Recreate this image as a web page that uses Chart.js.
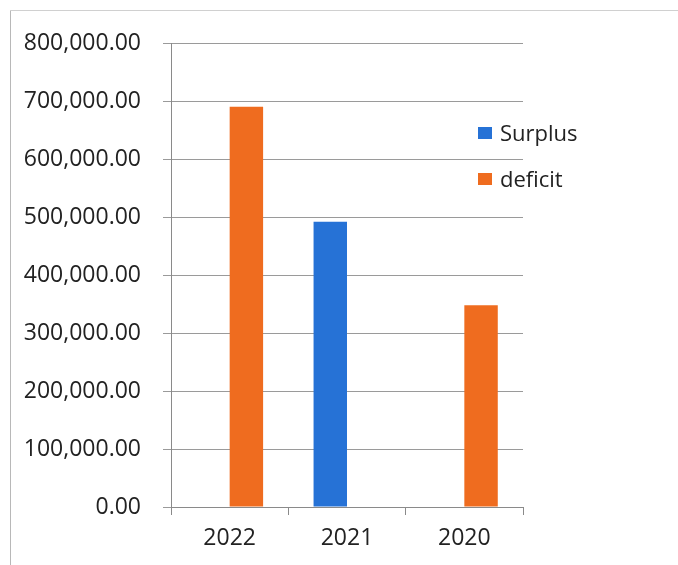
<!DOCTYPE html>
<html>
<head>
<meta charset="utf-8">
<script src="https://cdn.jsdelivr.net/npm/chart.js@4"></script>
<style>
  html, body { margin: 0; padding: 0; background: #fff; }
  #wrap { position: relative; width: 678px; height: 565px; overflow: hidden; }
  #c { position: absolute; left: 0; top: 0; }
  .frameL { position: absolute; left: 10px; top: 10px; width: 1px; height: 555px; background: #b8b8b8; }
  .frameT { position: absolute; left: 10px; top: 10px; width: 668px; height: 1px; background: #d0d0d0; }
  .legend { position: absolute; left: 478px; font-family: "Open Sans", sans-serif; font-size: 22px; color: #222; }
  .legend div { position: absolute; white-space: nowrap; height: 30px; line-height: 30px; }
  .legend span.sw { display: inline-block; width: 14px; height: 12px; margin-right: 8px; vertical-align: middle; position: relative; top: -2px; }
</style>
</head>
<body>
<div id="wrap">
  <canvas id="c" width="678" height="565"></canvas>
  <div class="frameL"></div>
  <div class="frameT"></div>
  <div class="legend" id="legend"></div>
</div>
<script>
const categories = ['2022', '2021', '2020'];
const seriesNames = ['Surplus', 'deficit'];
const surplus = [0, 492000, 0];
const deficit = [690000, 0, 348000];
const yTicks = [0, 100000, 200000, 300000, 400000, 500000, 600000, 700000, 800000];

const colors = ['#2672d6', '#ef6c1f'];
const FONT = '"Open Sans", sans-serif';
const fmt = new Intl.NumberFormat('en-US', { minimumFractionDigits: 2, maximumFractionDigits: 2 });

// HTML legend
const legendEl = document.getElementById('legend');
seriesNames.forEach((n, i) => {
  const d = document.createElement('div');
  d.style.top = (117 + i * 46) + 'px';
  d.innerHTML = '<span class="sw" style="background:' + colors[i] + '"></span>' + n;
  legendEl.appendChild(d);
});

new Chart(document.getElementById('c'), {
  type: 'bar',
  data: {
    labels: categories,
    datasets: [
      { label: seriesNames[0], data: surplus, backgroundColor: colors[0], borderWidth: 0 },
      { label: seriesNames[1], data: deficit, backgroundColor: colors[1], borderWidth: 0 }
    ]
  },
  options: {
    responsive: false,
    animation: false,
    devicePixelRatio: 1,
    layout: { padding: { left: 0, right: 155, top: 43, bottom: 0 } },
    plugins: { legend: { display: false }, tooltip: { enabled: false } },
    datasets: { bar: { categoryPercentage: 0.57, barPercentage: 1.0 } },
    scales: {
      x: {
        afterFit: (s) => { s.height = 58; },
        grid: { display: true, drawOnChartArea: false, offset: true, color: '#8a8a8a', tickLength: 8, lineWidth: 1 },
        border: { display: true, color: '#8a8a8a', width: 1 },
        ticks: { color: '#222', font: { family: FONT, size: 23 }, padding: 10 }
      },
      y: {
        min: 0, max: 800000,
        afterFit: (s) => { s.width = 171; },
        afterBuildTicks: (s) => { s.ticks = yTicks.map(v => ({ value: v })); },
        grid: { color: '#9a9a9a', tickLength: 8, lineWidth: 1 },
        border: { display: true, color: '#8a8a8a', width: 1 },
        ticks: { color: '#222', font: { family: FONT, size: 23 }, padding: 22, callback: (v) => fmt.format(v) }
      }
    }
  }
});
</script>
</body>
</html>
